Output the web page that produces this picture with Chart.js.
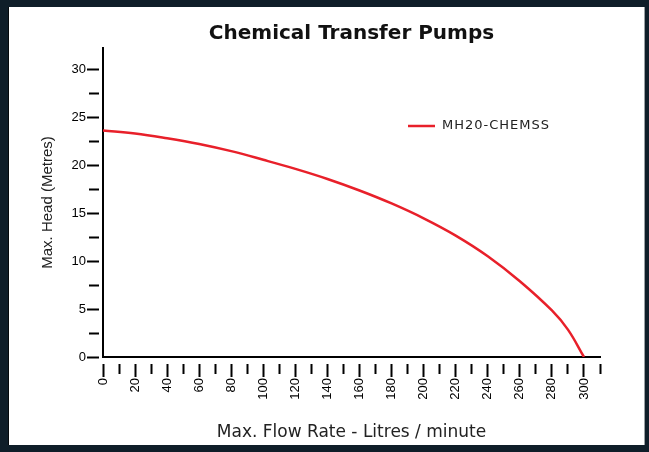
<!DOCTYPE html>
<html>
<head>
<meta charset="utf-8">
<script src="https://cdn.jsdelivr.net/npm/chart.js@4"></script>
<style>
  html, body { margin: 0; padding: 0; background: #0f1e29; }
  #panel {
    position: absolute; left: 9px; top: 7px; width: 635px; height: 438px;
    background: #fff; box-shadow: 1px 0 0 #9aa0a4, -1px 0 0 #05090c;
  }
  canvas { display: block; }
</style>
</head>
<body>
<div id="panel"><canvas id="chart" width="635" height="438"></canvas></div>
<script>
// Pump curve: flow rate (L/min) vs max head (m)
var flowRates = [0, 20, 40, 60, 80, 100, 120, 140, 160, 180, 200, 220, 240, 260, 280, 290, 300];
var headMetres = [23.6, 23.3, 22.8, 22.2, 21.45, 20.55, 19.6, 18.55, 17.35, 16.0, 14.45, 12.65, 10.5, 7.9, 4.85, 2.85, 0];
var seriesName = 'MH20-CHEMSS';

var points = flowRates.map(function(q, i) { return { x: q, y: headMetres[i] }; });

// ── Little legend drawn inside the plot ─────────────────────────────
var insideLegend = {
  id: 'insideLegend',
  afterDraw: function(chart) {
    var ctx = chart.ctx;
    var area = chart.chartArea;
    var ds = chart.data.datasets[0];
    var x = area.left + 305, y = area.top + 78;
    ctx.save();
    ctx.strokeStyle = ds.borderColor;
    ctx.lineWidth = 2.5;
    ctx.beginPath();
    ctx.moveTo(x, y);
    ctx.lineTo(x + 27, y);
    ctx.stroke();
    ctx.fillStyle = '#222';
    ctx.font = '13px "DejaVu Sans"';
    ctx.letterSpacing = '1px';
    ctx.textBaseline = 'middle';
    ctx.fillText(ds.label, x + 34, y);
    ctx.restore();
  }
};

new Chart(document.getElementById('chart'), {
  type: 'line',
  data: {
    datasets: [{
      label: seriesName,
      data: points,
      borderColor: '#e8202a',
      borderWidth: 2.5,
      pointRadius: 0,
      tension: 0.4,
      fill: false
    }]
  },
  plugins: [insideLegend],
  options: {
    responsive: false,
    animation: false,
    layout: { padding: { left: 0, right: 44, top: 0, bottom: 0 } },
    plugins: {
      legend: { display: false },
      tooltip: { enabled: false },
      title: {
        display: true,
        fullSize: false,  // centre over the plot, not the whole canvas
        text: 'Chemical Transfer Pumps',
        color: '#111',
        font: { family: 'DejaVu Sans', size: 20, weight: 'bold' },
        padding: { top: 15, bottom: 2 }
      }
    },
    scales: {
      x: {
        type: 'linear',
        min: 0,
        max: 310,
        afterFit: function(scale) { scale.height = 88; },
        border: { display: true, color: '#000', width: 2 },
        grid: {
          drawOnChartArea: false,
          drawTicks: true,
          tickLength: 20,
          tickColor: '#000',
          tickWidth: 2,
          tickBorderDash: function(ctx) {
            return ctx.tick && ctx.tick.value % 20 === 0 ? [0, 6, 13, 100] : [0, 6, 10, 100];
          }
        },
        ticks: {
          stepSize: 10,
          autoSkip: false,
          minRotation: 90,
          maxRotation: 90,
          padding: 1,
          color: '#000',
          font: { family: 'Liberation Sans', size: 13 },
          callback: function(v) { return v % 20 === 0 ? String(v) : ''; }
        },
        title: {
          display: true,
          text: 'Max. Flow Rate - Litres / minute',
          color: '#222',
          font: { family: 'DejaVu Sans', size: 17 },
          padding: { top: 0, bottom: 2 }
        }
      },
      y: {
        min: 0,
        max: 32.2,
        afterFit: function(scale) { scale.width = 94; },
        afterBuildTicks: function(scale) {
          scale.ticks = scale.ticks.filter(function(t) { return t.value <= 30; });
        },
        border: { display: true, color: '#000', width: 2 },
        grid: {
          drawOnChartArea: false,
          drawTicks: true,
          tickLength: 16,
          tickColor: '#000',
          tickWidth: 2,
          tickBorderDash: function(ctx) {
            return ctx.tick && ctx.tick.value % 5 === 0 ? [12, 100] : [0, 2, 10, 100];
          }
        },
        ticks: {
          stepSize: 2.5,
          autoSkip: false,
          padding: 1,
          color: '#000',
          font: { family: 'Liberation Sans', size: 13 },
          callback: function(v) { return v % 5 === 0 ? String(v) : ''; }
        },
        title: {
          display: true,
          text: 'Max. Head (Metres)',
          color: '#222',
          font: { family: 'Liberation Sans', size: 15 },
          padding: { top: 30, bottom: 0 }
        }
      }
    }
  }
});
</script>
</body>
</html>
